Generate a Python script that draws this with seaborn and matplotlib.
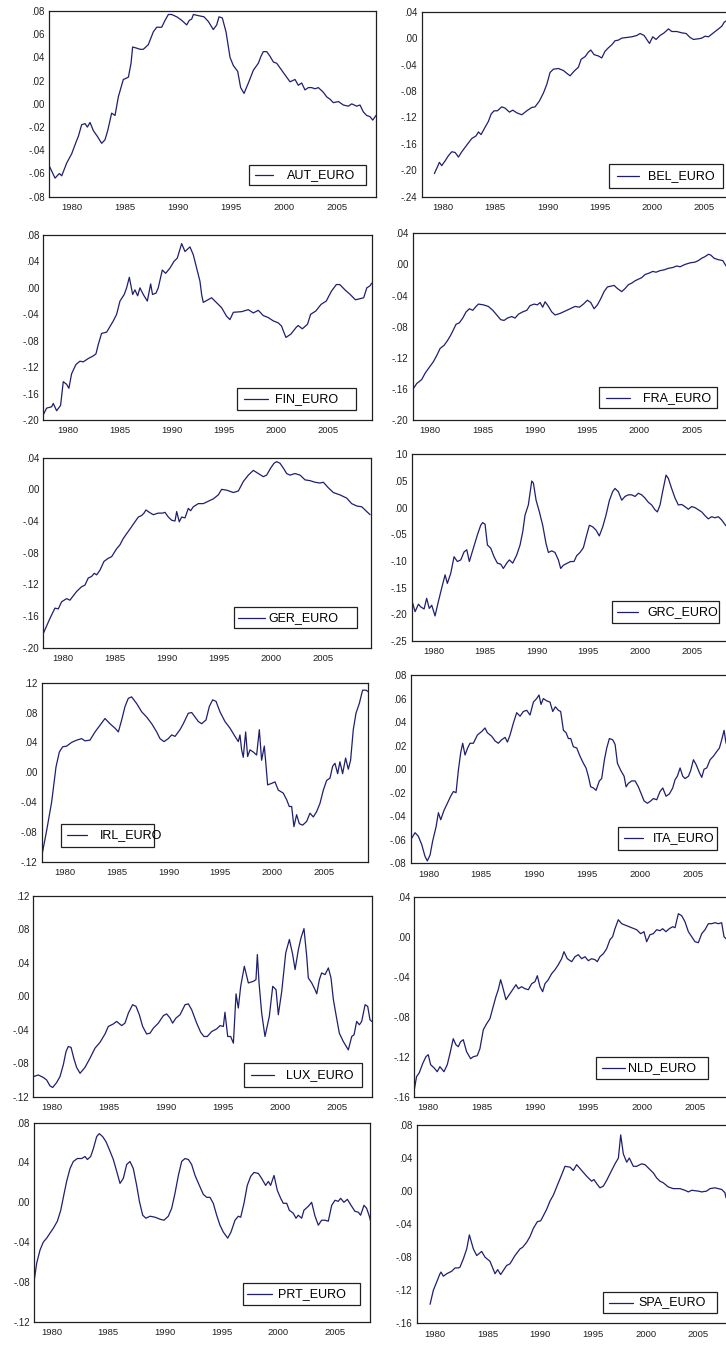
import matplotlib
matplotlib.use("Agg")
import matplotlib.pyplot as plt
from matplotlib.patches import Rectangle
from matplotlib.lines import Line2D
from matplotlib.ticker import FuncFormatter, MultipleLocator, FixedLocator
import seaborn as sns
import numpy as np

# --- data (year, value) ---
aut_year = [1977.86, 1978.43, 1978.84, 1979.06, 1979.53, 1980.0, 1980.41, 1980.63, 1980.94, 1981.26, 1981.48, 1981.73,
            1982.04, 1982.42, 1982.83, 1983.14, 1983.4, 1983.77, 1984.09, 1984.4, 1984.87, 1985.13, 1985.35, 1985.6,
            1985.75, 1986.13, 1986.45, 1986.76, 1987.23, 1987.7, 1988.02, 1988.49, 1988.81, 1989.12, 1989.43, 1989.91,
            1990.38, 1990.85, 1991.1, 1991.32, 1991.48, 1991.95, 1992.48, 1992.89, 1993.36, 1993.68, 1993.9, 1994.21,
            1994.56, 1994.94, 1995.25, 1995.66, 1995.94, 1996.26, 1996.67, 1997.14, 1997.61, 1997.86, 1998.08, 1998.4,
            1998.71, 1999.03, 1999.34, 1999.81, 2000.28, 2000.6, 2001.07, 2001.38, 2001.7, 2002.01, 2002.33, 2002.64,
            2002.96, 2003.27, 2003.74, 2004.06, 2004.37, 2004.69, 2005.16, 2005.63, 2006.1, 2006.42, 2006.89, 2007.2,
            2007.52, 2007.83, 2008.14, 2008.4, 2008.71]
aut_val = [-0.053, -0.064, -0.060, -0.062, -0.051, -0.043, -0.033, -0.028, -0.018, -0.017, -0.020, -0.016,
           -0.023, -0.028, -0.034, -0.031, -0.023, -0.008, -0.010, 0.006, 0.021, 0.022, 0.023, 0.035,
           0.049, 0.048, 0.047, 0.047, 0.051, 0.062, 0.066, 0.066, 0.072, 0.077, 0.077, 0.075,
           0.072, 0.068, 0.072, 0.073, 0.077, 0.076, 0.075, 0.071, 0.064, 0.068, 0.075, 0.074,
           0.062, 0.040, 0.033, 0.028, 0.014, 0.009, 0.018, 0.029, 0.035, 0.041, 0.045, 0.045,
           0.041, 0.036, 0.035, 0.029, 0.023, 0.019, 0.021, 0.016, 0.018, 0.012, 0.014, 0.014,
           0.013, 0.014, 0.010, 0.006, 0.004, 0.001, 0.002, -0.001, -0.002, 0.000, -0.002, -0.001,
           -0.007, -0.010, -0.011, -0.014, -0.010]

bel_year = [1979.2, 1979.43, 1979.68, 1979.9, 1980.22, 1980.54, 1980.86, 1981.18, 1981.5, 1981.82, 1982.29, 1982.77,
            1983.18, 1983.41, 1983.66, 1984.04, 1984.36, 1984.62, 1984.9, 1985.22, 1985.64, 1985.96, 1986.37, 1986.69,
            1987.07, 1987.55, 1988.03, 1988.5, 1988.82, 1989.24, 1989.62, 1989.94, 1990.25, 1990.57, 1991.05, 1991.53,
            1991.91, 1992.17, 1992.55, 1992.96, 1993.22, 1993.6, 1993.92, 1994.14, 1994.46, 1994.87, 1995.19, 1995.5,
            1995.8, 1996.15, 1996.46, 1996.78, 1997.1, 1997.58, 1998.06, 1998.54, 1998.85, 1999.24, 1999.49, 1999.75,
            2000.06, 2000.38, 2000.76, 2001.15, 2001.56, 2001.88, 2002.36, 2002.84, 2003.25, 2003.63, 2003.95, 2004.43,
            2004.75, 2005.06, 2005.38, 2005.7, 2006.02, 2006.34, 2006.66, 2006.88, 2007.07, 2007.3]
bel_val = [-0.205, -0.197, -0.188, -0.193, -0.186, -0.178, -0.172, -0.173, -0.180, -0.172, -0.162, -0.152,
           -0.148, -0.142, -0.146, -0.135, -0.126, -0.115, -0.110, -0.110, -0.104, -0.106, -0.112, -0.109,
           -0.113, -0.116, -0.110, -0.105, -0.104, -0.095, -0.083, -0.070, -0.052, -0.047, -0.046, -0.049,
           -0.054, -0.057, -0.050, -0.044, -0.032, -0.028, -0.021, -0.018, -0.025, -0.027, -0.030, -0.020,
           -0.015, -0.010, -0.004, -0.003, 0.000, 0.001, 0.002, 0.004, 0.007, 0.004, -0.002, -0.008,
           0.002, -0.002, 0.004, 0.008, 0.014, 0.010, 0.010, 0.008, 0.007, 0.001, -0.002, -0.001,
           0.000, 0.003, 0.002, 0.006, 0.010, 0.014, 0.018, 0.024, 0.026, 0.025]

fin_year = [1977.6, 1977.92, 1978.4, 1978.56, 1978.88, 1979.26, 1979.52, 1979.84, 1980.06, 1980.32, 1980.74, 1981.12,
            1981.44, 1981.92, 1982.4, 1982.66, 1982.88, 1983.2, 1983.69, 1984.33, 1984.65, 1984.97, 1985.38, 1985.61,
            1985.87, 1986.19, 1986.41, 1986.67, 1986.89, 1987.21, 1987.6, 1987.92, 1988.1, 1988.43, 1988.65, 1989.04,
            1989.36, 1989.78, 1990.16, 1990.48, 1990.9, 1991.22, 1991.7, 1992.02, 1992.34, 1992.66, 1992.82, 1992.98,
            1993.78, 1994.42, 1994.74, 1995.22, 1995.54, 1995.87, 1996.67, 1997.31, 1997.79, 1998.27, 1998.75, 1999.23,
            1999.71, 2000.19, 2000.51, 2000.67, 2000.93, 2001.4, 2001.9, 2002.1, 2002.5, 2003.0, 2003.3, 2003.8,
            2004.3, 2004.8, 2005.3, 2005.77, 2006.1, 2006.6, 2007.1, 2007.6, 2007.9, 2008.4, 2008.7, 2009.0, 2009.17]
fin_val = [-0.192, -0.182, -0.180, -0.175, -0.186, -0.178, -0.142, -0.146, -0.152, -0.130, -0.116, -0.111,
           -0.112, -0.107, -0.103, -0.100, -0.086, -0.069, -0.067, -0.050, -0.040, -0.020, -0.010, 0.000,
           0.016, -0.010, -0.003, -0.012, 0.000, -0.010, -0.020, 0.006, -0.010, -0.008, 0.000, 0.027,
           0.022, 0.030, 0.040, 0.045, 0.067, 0.055, 0.062, 0.050, 0.030, 0.010, -0.010, -0.022,
           -0.015, -0.025, -0.030, -0.043, -0.048, -0.037, -0.036, -0.033, -0.038, -0.034, -0.042, -0.045,
           -0.050, -0.053, -0.058, -0.065, -0.075, -0.070, -0.060, -0.057, -0.062, -0.055, -0.040, -0.035,
           -0.025, -0.020, -0.005, 0.005, 0.005, -0.003, -0.010, -0.018, -0.017, -0.015, 0.000, 0.003, 0.007]

fra_year = [1978.34, 1978.73, 1979.2, 1979.52, 1979.94, 1980.32, 1980.64, 1980.96, 1981.34, 1981.66, 1981.97, 1982.23,
            1982.48, 1982.8, 1983.12, 1983.44, 1983.76, 1984.08, 1984.39, 1984.62, 1985.1, 1985.57, 1985.99, 1986.37,
            1986.75, 1987.07, 1987.39, 1987.8, 1988.12, 1988.44, 1988.85, 1989.24, 1989.55, 1989.94, 1990.25, 1990.51,
            1990.76, 1990.99, 1991.31, 1991.62, 1991.94, 1992.42, 1992.9, 1993.38, 1993.85, 1994.27, 1994.65, 1995.03,
            1995.35, 1995.67, 1995.99, 1996.31, 1996.62, 1996.94, 1997.26, 1997.58, 1997.9, 1998.31, 1998.63, 1998.95,
            1999.27, 1999.59, 1999.9, 2000.22, 2000.54, 2000.96, 2001.27, 2001.59, 2001.97, 2002.36, 2002.77, 2003.18,
            2003.57, 2003.89, 2004.36, 2004.84, 2005.32, 2005.64, 2005.96, 2006.27, 2006.59, 2006.82, 2007.13, 2007.55,
            2007.96, 2008.28]
fra_val = [-0.161, -0.153, -0.148, -0.140, -0.132, -0.125, -0.117, -0.108, -0.104, -0.098, -0.091, -0.084,
           -0.077, -0.075, -0.069, -0.061, -0.057, -0.059, -0.054, -0.051, -0.052, -0.054, -0.059, -0.065,
           -0.071, -0.072, -0.069, -0.067, -0.069, -0.064, -0.061, -0.059, -0.053, -0.051, -0.052, -0.049,
           -0.055, -0.048, -0.054, -0.061, -0.065, -0.063, -0.060, -0.057, -0.054, -0.055, -0.051, -0.046,
           -0.049, -0.057, -0.052, -0.044, -0.035, -0.029, -0.028, -0.027, -0.031, -0.035, -0.031, -0.026,
           -0.024, -0.021, -0.019, -0.017, -0.013, -0.011, -0.009, -0.010, -0.008, -0.007, -0.005, -0.004,
           -0.002, -0.003, 0.000, 0.002, 0.003, 0.005, 0.008, 0.010, 0.013, 0.012, 0.008, 0.006,
           0.005, -0.002]

ger_year = [1978.08, 1978.72, 1979.2, 1979.52, 1979.84, 1980.32, 1980.64, 1981.28, 1981.76, 1982.08, 1982.4, 1982.72,
            1982.98, 1983.21, 1983.53, 1983.91, 1984.33, 1984.65, 1985.13, 1985.45, 1985.77, 1986.09, 1986.47, 1986.89,
            1987.21, 1987.53, 1987.76, 1987.95, 1988.27, 1988.65, 1989.13, 1989.55, 1989.78, 1990.1, 1990.42, 1990.74,
            1990.9, 1991.15, 1991.38, 1991.7, 1992.02, 1992.24, 1992.5, 1992.98, 1993.46, 1993.94, 1994.42, 1994.9,
            1995.22, 1995.71, 1996.35, 1996.83, 1997.31, 1997.79, 1998.27, 1998.75, 1999.23, 1999.55, 1999.94, 2000.26,
            2000.51, 2000.83, 2001.15, 2001.47, 2001.79, 2002.28, 2002.76, 2003.24, 2003.72, 2004.2, 2004.68, 2005.0,
            2005.48, 2005.96, 2006.6, 2007.24, 2007.72, 2008.21, 2008.69, 2009.01, 2009.49]
ger_val = [-0.182, -0.163, -0.150, -0.151, -0.142, -0.138, -0.140, -0.129, -0.123, -0.121, -0.112, -0.110,
           -0.106, -0.108, -0.102, -0.091, -0.087, -0.085, -0.075, -0.070, -0.062, -0.056, -0.049, -0.041,
           -0.035, -0.033, -0.030, -0.026, -0.029, -0.032, -0.030, -0.030, -0.029, -0.035, -0.039, -0.040,
           -0.028, -0.041, -0.035, -0.036, -0.024, -0.027, -0.022, -0.018, -0.018, -0.015, -0.012, -0.007,
           0.000, -0.001, -0.004, -0.002, 0.010, 0.018, 0.024, 0.020, 0.016, 0.018, 0.027, 0.033,
           0.035, 0.033, 0.027, 0.020, 0.018, 0.020, 0.018, 0.012, 0.011, 0.009, 0.008, 0.009,
           0.002, -0.004, -0.007, -0.011, -0.018, -0.021, -0.022, -0.026, -0.032]

grc_year = [1977.9, 1978.23, 1978.55, 1978.77, 1979.1, 1979.35, 1979.6, 1979.84, 1980.16, 1980.48, 1980.8, 1981.13,
            1981.35, 1981.68, 1982.0, 1982.32, 1982.65, 1982.97, 1983.23, 1983.48, 1983.87, 1984.26, 1984.58, 1984.77,
            1985.0, 1985.23, 1985.55, 1985.87, 1986.19, 1986.52, 1986.77, 1987.1, 1987.35, 1987.68, 1988.06, 1988.39,
            1988.65, 1988.87, 1989.19, 1989.52, 1989.68, 1989.94, 1990.26, 1990.58, 1990.9, 1991.13, 1991.45, 1991.77,
            1992.1, 1992.32, 1992.58, 1992.97, 1993.29, 1993.61, 1993.87, 1994.19, 1994.52, 1994.84, 1995.1, 1995.42,
            1995.74, 1996.06, 1996.39, 1996.71, 1997.03, 1997.35, 1997.58, 1997.9, 1998.23, 1998.55, 1998.87, 1999.19,
            1999.52, 1999.84, 2000.16, 2000.48, 2000.81, 2001.13, 2001.45, 2001.68, 2001.94, 2002.19, 2002.52, 2002.74,
            2003.06, 2003.39, 2003.71, 2004.03, 2004.35, 2004.68, 2005.0, 2005.32, 2005.65, 2005.97, 2006.29, 2006.61,
            2006.94, 2007.26, 2007.58, 2007.9, 2008.13, 2008.32]
grc_val = [-0.173, -0.195, -0.181, -0.186, -0.190, -0.170, -0.189, -0.183, -0.203, -0.176, -0.151, -0.126,
           -0.142, -0.123, -0.092, -0.101, -0.098, -0.083, -0.079, -0.101, -0.076, -0.051, -0.033, -0.028,
           -0.031, -0.070, -0.076, -0.092, -0.104, -0.106, -0.114, -0.104, -0.098, -0.104, -0.089, -0.070,
           -0.045, -0.014, 0.005, 0.050, 0.046, 0.014, -0.008, -0.033, -0.067, -0.084, -0.081, -0.084,
           -0.098, -0.114, -0.108, -0.104, -0.101, -0.101, -0.090, -0.084, -0.075, -0.051, -0.033, -0.036,
           -0.042, -0.053, -0.036, -0.014, 0.013, 0.030, 0.036, 0.030, 0.014, 0.021, 0.024, 0.024,
           0.021, 0.027, 0.024, 0.018, 0.010, 0.005, -0.004, -0.008, 0.005, 0.030, 0.061, 0.055,
           0.036, 0.018, 0.005, 0.006, 0.002, -0.003, 0.002, 0.000, -0.004, -0.008, -0.015, -0.021,
           -0.017, -0.019, -0.017, -0.023, -0.029, -0.034]

irl_year = [1977.75, 1978.23, 1978.71, 1979.13, 1979.45, 1979.77, 1980.16, 1980.64, 1981.13, 1981.61, 1981.93, 1982.41,
            1982.9, 1983.38, 1983.86, 1984.34, 1984.83, 1985.15, 1985.47, 1985.79, 1986.11, 1986.43, 1986.92, 1987.4,
            1987.88, 1988.37, 1988.85, 1989.17, 1989.56, 1989.97, 1990.3, 1990.62, 1991.1, 1991.42, 1991.9, 1992.23,
            1992.55, 1992.87, 1993.19, 1993.61, 1993.93, 1994.25, 1994.58, 1994.96, 1995.44, 1995.93, 1996.41, 1996.73,
            1996.89, 1997.05, 1997.21, 1997.44, 1997.63, 1997.86, 1998.18, 1998.5, 1998.76, 1998.98, 1999.24, 1999.4,
            1999.56, 1999.95, 2000.27, 2000.59, 2001.07, 2001.4, 2001.65, 2001.88, 2002.1, 2002.36, 2002.62, 2002.94,
            2003.33, 2003.65, 2003.97, 2004.29, 2004.61, 2004.94, 2005.26, 2005.58, 2005.84, 2006.06, 2006.32, 2006.54,
            2006.8, 2007.09, 2007.35, 2007.57, 2007.83, 2008.09, 2008.41, 2008.73, 2009.05, 2009.28]
irl_val = [-0.113, -0.078, -0.040, 0.007, 0.027, 0.034, 0.035, 0.040, 0.043, 0.045, 0.042, 0.043,
           0.054, 0.063, 0.072, 0.065, 0.059, 0.054, 0.070, 0.088, 0.099, 0.101, 0.092, 0.081,
           0.074, 0.065, 0.054, 0.045, 0.041, 0.045, 0.050, 0.048, 0.057, 0.065, 0.079, 0.080,
           0.074, 0.068, 0.065, 0.070, 0.088, 0.097, 0.095, 0.081, 0.068, 0.059, 0.048, 0.041,
           0.050, 0.030, 0.020, 0.054, 0.021, 0.030, 0.027, 0.023, 0.057, 0.016, 0.035, 0.010,
           -0.017, -0.015, -0.013, -0.024, -0.028, -0.037, -0.046, -0.046, -0.073, -0.057, -0.069, -0.071,
           -0.066, -0.055, -0.060, -0.053, -0.042, -0.024, -0.011, -0.008, 0.008, 0.012, -0.002, 0.014,
           -0.002, 0.019, 0.004, 0.016, 0.057, 0.079, 0.092, 0.110, 0.110, 0.108]

ita_year = [1978.33, 1978.74, 1979.05, 1979.37, 1979.68, 1979.9, 1980.16, 1980.41, 1980.73, 1980.95, 1981.17, 1981.48,
            1981.8, 1982.11, 1982.37, 1982.62, 1982.84, 1983.06, 1983.25, 1983.47, 1983.72, 1983.94, 1984.26, 1984.64,
            1985.05, 1985.36, 1985.58, 1985.99, 1986.31, 1986.62, 1986.94, 1987.26, 1987.48, 1987.73, 1988.04, 1988.36,
            1988.68, 1988.99, 1989.31, 1989.62, 1989.94, 1990.25, 1990.47, 1990.66, 1990.88, 1991.2, 1991.51, 1991.77,
            1992.02, 1992.3, 1992.52, 1992.78, 1993.03, 1993.25, 1993.47, 1993.72, 1994.04, 1994.35, 1994.67, 1994.92,
            1995.14, 1995.36, 1995.62, 1995.87, 1996.18, 1996.4, 1996.66, 1996.88, 1997.13, 1997.44, 1997.67, 1997.89,
            1998.2, 1998.52, 1998.71, 1998.93, 1999.24, 1999.56, 1999.87, 2000.19, 2000.41, 2000.73, 2001.04, 2001.29,
            2001.61, 2001.92, 2002.18, 2002.49, 2002.81, 2003.12, 2003.34, 2003.56, 2003.82, 2004.07, 2004.29, 2004.61,
            2004.83, 2005.08, 2005.33, 2005.65, 2005.87, 2006.09, 2006.34, 2006.66, 2006.97, 2007.29, 2007.54, 2007.76,
            2007.98, 2008.17]
ita_val = [-0.060, -0.054, -0.057, -0.064, -0.074, -0.078, -0.073, -0.061, -0.049, -0.037, -0.043, -0.035,
           -0.029, -0.023, -0.019, -0.020, -0.001, 0.014, 0.022, 0.012, 0.018, 0.022, 0.022, 0.029,
           0.032, 0.035, 0.031, 0.028, 0.024, 0.022, 0.025, 0.027, 0.023, 0.029, 0.039, 0.048,
           0.045, 0.049, 0.050, 0.046, 0.057, 0.060, 0.063, 0.055, 0.060, 0.058, 0.057, 0.049,
           0.053, 0.050, 0.049, 0.033, 0.031, 0.026, 0.026, 0.019, 0.018, 0.011, 0.005, 0.001,
           -0.006, -0.015, -0.016, -0.018, -0.010, -0.008, 0.008, 0.018, 0.026, 0.025, 0.021, 0.005,
           -0.001, -0.006, -0.015, -0.012, -0.010, -0.010, -0.015, -0.022, -0.027, -0.029, -0.027, -0.025,
           -0.026, -0.019, -0.016, -0.023, -0.021, -0.016, -0.009, -0.006, 0.001, -0.006, -0.008, -0.006,
           -0.001, 0.008, 0.004, -0.003, -0.007, 0.000, 0.001, 0.008, 0.011, 0.015, 0.018, 0.025,
           0.033, 0.022]

lux_year = [1978.39, 1978.83, 1979.27, 1979.56, 1979.85, 1980.09, 1980.44, 1980.73, 1981.02, 1981.26, 1981.46, 1981.7,
            1981.96, 1982.19, 1982.49, 1982.92, 1983.36, 1983.8, 1984.24, 1984.68, 1984.97, 1985.41, 1985.7, 1986.14,
            1986.43, 1986.73, 1987.1, 1987.4, 1987.69, 1987.98, 1988.33, 1988.63, 1988.92, 1989.36, 1989.8, 1990.09,
            1990.38, 1990.61, 1990.9, 1991.26, 1991.7, 1991.99, 1992.28, 1992.72, 1993.07, 1993.36, 1993.65, 1994.04,
            1994.47, 1994.77, 1995.06, 1995.2, 1995.44, 1995.7, 1995.94, 1996.17, 1996.37, 1996.58, 1996.9, 1997.25,
            1997.69, 1997.92, 1998.04, 1998.19, 1998.42, 1998.71, 1999.09, 1999.39, 1999.68, 1999.88, 2000.18, 2000.53,
            2000.85, 2001.14, 2001.35, 2001.64, 2001.87, 2002.13, 2002.37, 2002.51, 2002.81, 2003.1, 2003.25, 2003.48,
            2003.68, 2003.98, 2004.27, 2004.5, 2004.71, 2004.94, 2005.23, 2005.58, 2006.02, 2006.32, 2006.52, 2006.75,
            2006.99, 2007.19, 2007.49, 2007.72, 2007.92, 2008.07]
lux_val = [-0.096, -0.094, -0.097, -0.100, -0.107, -0.109, -0.103, -0.096, -0.082, -0.066, -0.060, -0.061,
           -0.075, -0.085, -0.092, -0.085, -0.074, -0.062, -0.055, -0.045, -0.036, -0.033, -0.030, -0.035,
           -0.032, -0.020, -0.010, -0.012, -0.022, -0.036, -0.045, -0.044, -0.038, -0.032, -0.023, -0.021,
           -0.026, -0.032, -0.026, -0.022, -0.010, -0.009, -0.016, -0.032, -0.043, -0.048, -0.048, -0.042,
           -0.039, -0.035, -0.036, -0.019, -0.048, -0.048, -0.056, 0.003, -0.014, 0.012, 0.036, 0.016,
           0.018, 0.020, 0.050, 0.016, -0.020, -0.048, -0.024, 0.012, 0.008, -0.022, 0.006, 0.052,
           0.068, 0.050, 0.032, 0.056, 0.070, 0.081, 0.048, 0.022, 0.016, 0.008, 0.003, 0.020,
           0.028, 0.026, 0.034, 0.022, -0.004, -0.022, -0.044, -0.054, -0.064, -0.048, -0.046, -0.030,
           -0.034, -0.030, -0.010, -0.012, -0.028, -0.030]

nld_year = [1978.69, 1978.9, 1979.16, 1979.47, 1979.78, 1980.0, 1980.22, 1980.53, 1980.84, 1981.09, 1981.47, 1981.78,
            1982.03, 1982.34, 1982.59, 1982.81, 1983.03, 1983.28, 1983.59, 1983.97, 1984.22, 1984.59, 1984.84, 1985.16,
            1985.47, 1985.78, 1986.03, 1986.34, 1986.56, 1986.78, 1986.97, 1987.28, 1987.59, 1987.91, 1988.22, 1988.44,
            1988.75, 1989.06, 1989.38, 1989.69, 1990.0, 1990.22, 1990.47, 1990.72, 1990.94, 1991.25, 1991.56, 1991.88,
            1992.19, 1992.5, 1992.72, 1993.03, 1993.44, 1993.75, 1994.06, 1994.38, 1994.69, 1995.0, 1995.31, 1995.63,
            1995.84, 1996.09, 1996.41, 1996.72, 1997.03, 1997.28, 1997.5, 1997.81, 1998.13, 1998.59, 1999.06, 1999.53,
            1999.91, 2000.22, 2000.47, 2000.78, 2001.09, 2001.41, 2001.72, 2001.97, 2002.28, 2002.59, 2002.91, 2003.13,
            2003.44, 2003.75, 2004.06, 2004.38, 2004.69, 2005.0, 2005.31, 2005.63, 2005.94, 2006.25, 2006.56, 2006.88,
            2007.19, 2007.5, 2007.72, 2008.0]
nld_val = [-0.153, -0.140, -0.136, -0.127, -0.120, -0.118, -0.128, -0.131, -0.135, -0.130, -0.135, -0.128,
           -0.117, -0.102, -0.108, -0.110, -0.105, -0.103, -0.115, -0.122, -0.120, -0.119, -0.112, -0.093,
           -0.087, -0.082, -0.072, -0.060, -0.053, -0.043, -0.050, -0.063, -0.058, -0.053, -0.048, -0.052,
           -0.050, -0.052, -0.053, -0.047, -0.045, -0.039, -0.050, -0.055, -0.047, -0.043, -0.037, -0.033,
           -0.028, -0.022, -0.015, -0.022, -0.025, -0.020, -0.018, -0.022, -0.020, -0.024, -0.022, -0.023,
           -0.025, -0.020, -0.017, -0.012, -0.003, 0.000, 0.008, 0.017, 0.013, 0.011, 0.009, 0.007,
           0.003, 0.005, -0.005, 0.002, 0.003, 0.007, 0.006, 0.008, 0.005, 0.008, 0.010, 0.009,
           0.023, 0.021, 0.015, 0.005, 0.000, -0.005, -0.006, 0.003, 0.007, 0.013, 0.013, 0.014,
           0.013, 0.014, 0.000, -0.003]

prt_year = [1978.44, 1978.68, 1978.97, 1979.26, 1979.56, 1979.85, 1980.15, 1980.5, 1980.8, 1981.1, 1981.32, 1981.62,
            1981.91, 1982.26, 1982.65, 1982.94, 1983.15, 1983.44, 1983.68, 1983.97, 1984.2, 1984.5, 1984.79, 1985.09,
            1985.44, 1985.74, 1986.03, 1986.32, 1986.62, 1986.91, 1987.2, 1987.5, 1987.74, 1988.03, 1988.32, 1988.68,
            1989.12, 1989.56, 1989.91, 1990.29, 1990.59, 1990.88, 1991.18, 1991.47, 1991.76, 1992.06, 1992.35, 1992.65,
            1993.03, 1993.38, 1993.68, 1993.97, 1994.26, 1994.56, 1994.85, 1995.15, 1995.53, 1995.82, 1996.18, 1996.47,
            1996.68, 1996.97, 1997.26, 1997.56, 1997.85, 1998.24, 1998.53, 1998.88, 1999.12, 1999.32, 1999.62, 1999.91,
            2000.21, 2000.44, 2000.74, 2000.97, 2001.32, 2001.56, 2001.76, 2002.06, 2002.26, 2002.65, 2002.94, 2003.24,
            2003.53, 2003.82, 2004.12, 2004.41, 2004.71, 2005.0, 2005.29, 2005.5, 2005.79, 2006.09, 2006.47, 2006.76,
            2007.06, 2007.26, 2007.56, 2007.79, 2008.03, 2008.24]
prt_val = [-0.080, -0.061, -0.048, -0.040, -0.036, -0.031, -0.026, -0.019, -0.008, 0.009, 0.021, 0.034,
           0.041, 0.044, 0.044, 0.046, 0.043, 0.046, 0.054, 0.066, 0.069, 0.066, 0.061, 0.053,
           0.043, 0.031, 0.019, 0.024, 0.038, 0.041, 0.034, 0.017, 0.001, -0.013, -0.016, -0.014,
           -0.015, -0.017, -0.018, -0.014, -0.006, 0.009, 0.027, 0.041, 0.044, 0.043, 0.038, 0.027,
           0.017, 0.008, 0.005, 0.005, -0.001, -0.013, -0.023, -0.030, -0.036, -0.030, -0.018, -0.014,
           -0.015, -0.001, 0.017, 0.026, 0.030, 0.029, 0.024, 0.017, 0.021, 0.017, 0.027, 0.012,
           0.004, -0.001, -0.001, -0.008, -0.011, -0.016, -0.013, -0.016, -0.008, -0.004, 0.000, -0.014,
           -0.023, -0.018, -0.018, -0.019, -0.003, 0.002, 0.001, 0.004, 0.000, 0.003, -0.004, -0.009,
           -0.010, -0.013, -0.003, -0.006, -0.014, -0.023]

spa_year = [1979.53, 1979.84, 1980.16, 1980.47, 1980.57, 1980.79, 1981.11, 1981.58, 1981.9, 1982.22, 1982.37, 1982.69,
            1983.01, 1983.26, 1983.64, 1983.96, 1984.43, 1984.75, 1985.22, 1985.7, 1985.95, 1986.23, 1986.8, 1987.12,
            1987.59, 1988.07, 1988.32, 1988.7, 1989.02, 1989.34, 1989.72, 1990.03, 1990.28, 1990.6, 1990.92, 1991.23,
            1991.39, 1991.71, 1992.03, 1992.34, 1992.82, 1993.13, 1993.45, 1993.92, 1994.4, 1994.87, 1995.09, 1995.41,
            1995.66, 1995.98, 1996.3, 1996.77, 1997.09, 1997.41, 1997.63, 1997.88, 1998.2, 1998.45, 1998.83, 1999.15,
            1999.62, 1999.94, 2000.41, 2000.73, 2001.04, 2001.36, 2001.68, 2002.15, 2002.63, 2003.26, 2003.73, 2004.05,
            2004.37, 2005.0, 2005.32, 2005.79, 2006.11, 2006.58, 2006.9, 2007.22, 2007.53, 2007.63, 2007.9]
spa_val = [-0.137, -0.120, -0.110, -0.100, -0.098, -0.103, -0.100, -0.097, -0.093, -0.093, -0.092, -0.082,
           -0.070, -0.053, -0.070, -0.078, -0.073, -0.080, -0.085, -0.100, -0.095, -0.101, -0.090, -0.088,
           -0.078, -0.070, -0.068, -0.062, -0.055, -0.045, -0.037, -0.036, -0.030, -0.022, -0.012, -0.005,
           0.000, 0.010, 0.020, 0.030, 0.029, 0.025, 0.032, 0.025, 0.018, 0.012, 0.014, 0.008,
           0.004, 0.006, 0.013, 0.025, 0.033, 0.040, 0.068, 0.045, 0.035, 0.040, 0.030, 0.030,
           0.033, 0.032, 0.026, 0.022, 0.016, 0.012, 0.010, 0.005, 0.003, 0.003, 0.001, -0.001,
           0.001, 0.000, -0.001, 0.000, 0.003, 0.004, 0.003, 0.002, -0.002, -0.008, -0.010]

names = ["AUT_EURO", "BEL_EURO", "FIN_EURO", "FRA_EURO", "GER_EURO", "GRC_EURO",
         "IRL_EURO", "ITA_EURO", "LUX_EURO", "NLD_EURO", "PRT_EURO", "SPA_EURO"]
years = [aut_year, bel_year, fin_year, fra_year, ger_year, grc_year,
         irl_year, ita_year, lux_year, nld_year, prt_year, spa_year]
vals = [aut_val, bel_val, fin_val, fra_val, ger_val, grc_val,
        irl_val, ita_val, lux_val, nld_val, prt_val, spa_val]

# --- layout (pixels of the 726x1345 picture) ---
W, H = 726, 1345
# axes box: left, right, top, bottom
boxes = [(49, 376, 11, 196.7), (421.7, 743.7, 11.7, 196.7),
         (43.3, 371.7, 235, 420), (412.7, 731, 233.3, 420),
         (43.3, 371, 457.7, 647.7), (411.7, 730.4, 454.3, 641),
         (41.7, 368.3, 682.7, 861.7), (410.7, 732.2, 675, 863.3),
         (33.3, 371.7, 896, 1096.7), (414.3, 735, 896.7, 1096.7),
         (34, 370, 1122.7, 1321.7), (416.7, 737.8, 1125, 1323.3)]
xlims = [(1977.86, 2008.71), (1977.99, 2008.75), (1977.6, 2009.17), (1978.34, 2008.75),
         (1978.08, 2009.58), (1977.9, 2008.75), (1977.75, 2009.28), (1978.33, 2008.75),
         (1978.39, 2008.07), (1978.69, 2008.75), (1978.44, 2008.09), (1978.26, 2008.75)]
ylims = [(-0.08, 0.08, 0.02), (-0.24, 0.04, 0.04), (-0.20, 0.08, 0.04), (-0.20, 0.04, 0.04),
         (-0.20, 0.04, 0.04), (-0.25, 0.10, 0.05), (-0.12, 0.12, 0.04), (-0.08, 0.08, 0.02),
         (-0.12, 0.12, 0.04), (-0.16, 0.04, 0.04), (-0.12, 0.08, 0.04), (-0.16, 0.08, 0.04)]
# legend: box x0, x1, y0, y1, line x0, x1, text x
legs = [(249, 366, 165, 185, 255, 273, 287), (609.3, 722.7, 164, 188.3, 616.7, 639.3, 648.3),
        (237.3, 356, 388.3, 410, 244, 268.3, 275), (599.3, 716.7, 387.3, 408.3, 606, 630, 642.7),
        (234.3, 356.7, 607.3, 628.3, 238.3, 265, 268), (611.7, 719.3, 601, 623.3, 617.3, 638.3, 647.3),
        (61, 154.3, 824, 846.7, 66.7, 87.3, 100), (618.3, 716.7, 826.7, 850, 624, 643.3, 652.7),
        (244.3, 361.7, 1062.7, 1086.7, 250.7, 274, 286), (596, 708.3, 1057.3, 1079.3, 601.7, 625, 628),
        (242.7, 360, 1283.3, 1305, 247.3, 271.7, 278), (602.7, 716.7, 1291.7, 1313.3, 609.3, 633.3, 638)]

LINE = "#1f1f6e"
EDGE = "#202020"

sns.set_style("white")
plt.rcParams['font.family'] = ['Liberation Sans', 'DejaVu Sans']


def short(v, pos=None):
    s = f"{v:.2f}"
    if s in ("-0.00", "0.00"):
        return ".00"
    return s.replace("0.", ".", 1)


fig = plt.figure(figsize=(W / 100, H / 100), dpi=100)
fig.patch.set_facecolor("white")

for i in range(12):
    l, r, t, b = boxes[i]
    ax = fig.add_axes([l / W, 1 - b / H, (r - l) / W, (b - t) / H])
    sns.lineplot(x=years[i], y=vals[i], ax=ax, color=LINE, linewidth=0.9, legend=False)
    ax.set_xlim(*xlims[i])
    lo, hi, step = ylims[i]
    ax.set_ylim(lo, hi)
    n = int(round((hi - lo) / step)) + 1
    ax.yaxis.set_major_locator(FixedLocator(np.linspace(lo, hi, n)))
    ax.yaxis.set_major_formatter(FuncFormatter(short))
    ax.xaxis.set_major_locator(MultipleLocator(5))
    ax.xaxis.set_minor_locator(MultipleLocator(1))
    ax.xaxis.set_major_formatter(FuncFormatter(lambda v, p: f"{int(round(v))}"))
    ax.tick_params(axis="x", which="both", direction="out", length=3, width=0.6,
                   labelsize=6.8, pad=1.5, colors=EDGE)
    ax.tick_params(axis="y", which="major", direction="out", length=2.5, width=0.6,
                   labelsize=7, pad=0.5, colors=EDGE)
    ax.set_xlabel("")
    ax.set_ylabel("")
    for sp in ax.spines.values():
        sp.set_visible(True)
        sp.set_color(EDGE)
        sp.set_linewidth(0.9)

    # legend box drawn like the EViews one
    bx0, bx1, by0, by1, lx0, lx1, tx = legs[i]
    yc = 1 - (by0 + by1) / 2 / H
    fig.add_artist(Rectangle((bx0 / W, 1 - by1 / H), (bx1 - bx0) / W, (by1 - by0) / H,
                             transform=fig.transFigure, facecolor="white",
                             edgecolor=EDGE, linewidth=0.9))
    fig.add_artist(Line2D([lx0 / W, lx1 / W], [yc, yc], transform=fig.transFigure,
                          color=LINE, linewidth=0.9))
    fig.text(tx / W, yc, names[i], ha="left", va="center", fontsize=9, color="black")

fig.savefig("out.png", dpi=100, facecolor="white")
